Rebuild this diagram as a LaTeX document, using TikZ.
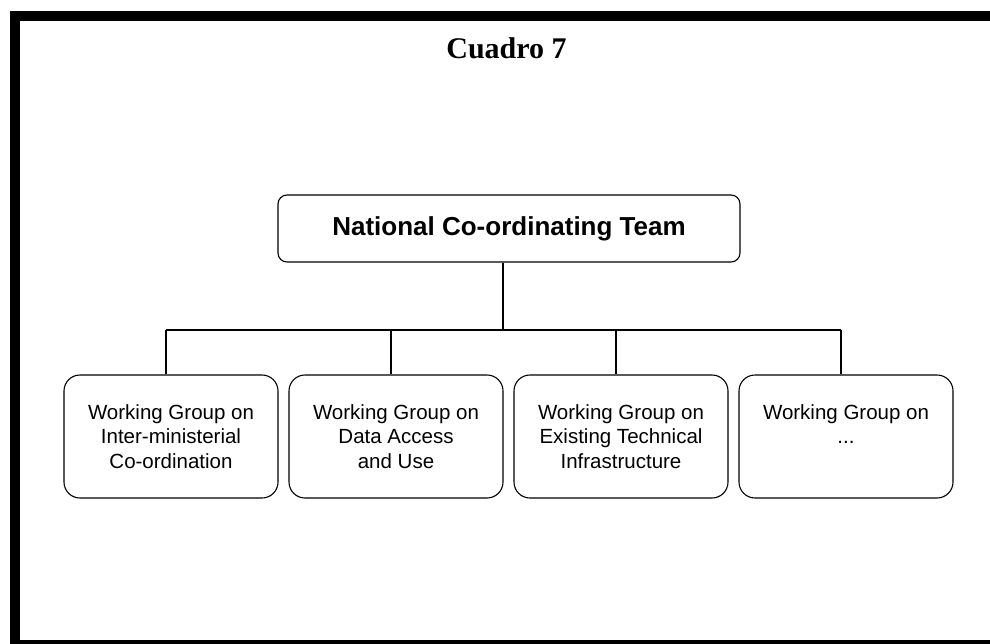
\documentclass[tikz,border=0pt]{standalone}
\usepackage{fontspec}
\setmainfont{Liberation Sans}
\newfontfamily\titlefont{Liberation Serif}
\begin{document}
\begin{tikzpicture}[x=1pt,y=-1pt,
  framebar/.style={fill=black,draw=none},
  mainbox/.style={draw=black,line width=1.1pt,rounded corners=9pt,minimum width=462pt,minimum height=67pt,inner sep=0pt,
    font=\fontsize{26}{30}\selectfont\bfseries},
  wgbox/.style={draw=black,line width=1.1pt,rounded corners=16pt,minimum width=214pt,minimum height=123pt,inner sep=0pt,
    align=center,font=\fontsize{20.5}{24.5}\selectfont},
  conn/.style={draw=black,line width=1.1pt}]
\useasboundingbox (0,0) rectangle (990,643);
% frame
\fill[framebar] (10,11) rectangle (990,21);
\fill[framebar] (10,11) rectangle (20,650);
\fill[framebar] (10,640) rectangle (990,650);
% title
\node[font=\titlefont\fontsize{30}{34}\selectfont\bfseries,anchor=base] (title) at (506.5,58) {Cuadro 7};
% main
\node[mainbox] (main) at (509,228.5) {National Co-ordinating Team};
% children
\node[wgbox] (b1) at (171,436.5) {Working Group on\\Inter-ministerial\\Co-ordination};
\node[wgbox] (b2) at (396,436.5) {Working Group on\\Data Access\\and Use};
\node[wgbox] (b3) at (621,436.5) {Working Group on\\Existing Technical\\Infrastructure};
\node[wgbox] (b4) at (846,436.5) {Working Group on\\...\\\phantom{Infrastructure}};
% connectors
\coordinate (j) at (503,330);
\coordinate (s1) at (166,330);
\coordinate (s2) at (391,330);
\coordinate (s3) at (616,330);
\coordinate (s4) at (841,330);
\draw[conn] (j |- main.south) -- (j);
\draw[conn] (s1) -- (s4);
\draw[conn] (s1) -- (s1 |- b1.north);
\draw[conn] (s2) -- (s2 |- b2.north);
\draw[conn] (s3) -- (s3 |- b3.north);
\draw[conn] (s4) -- (s4 |- b4.north);
\end{tikzpicture}
\end{document}
